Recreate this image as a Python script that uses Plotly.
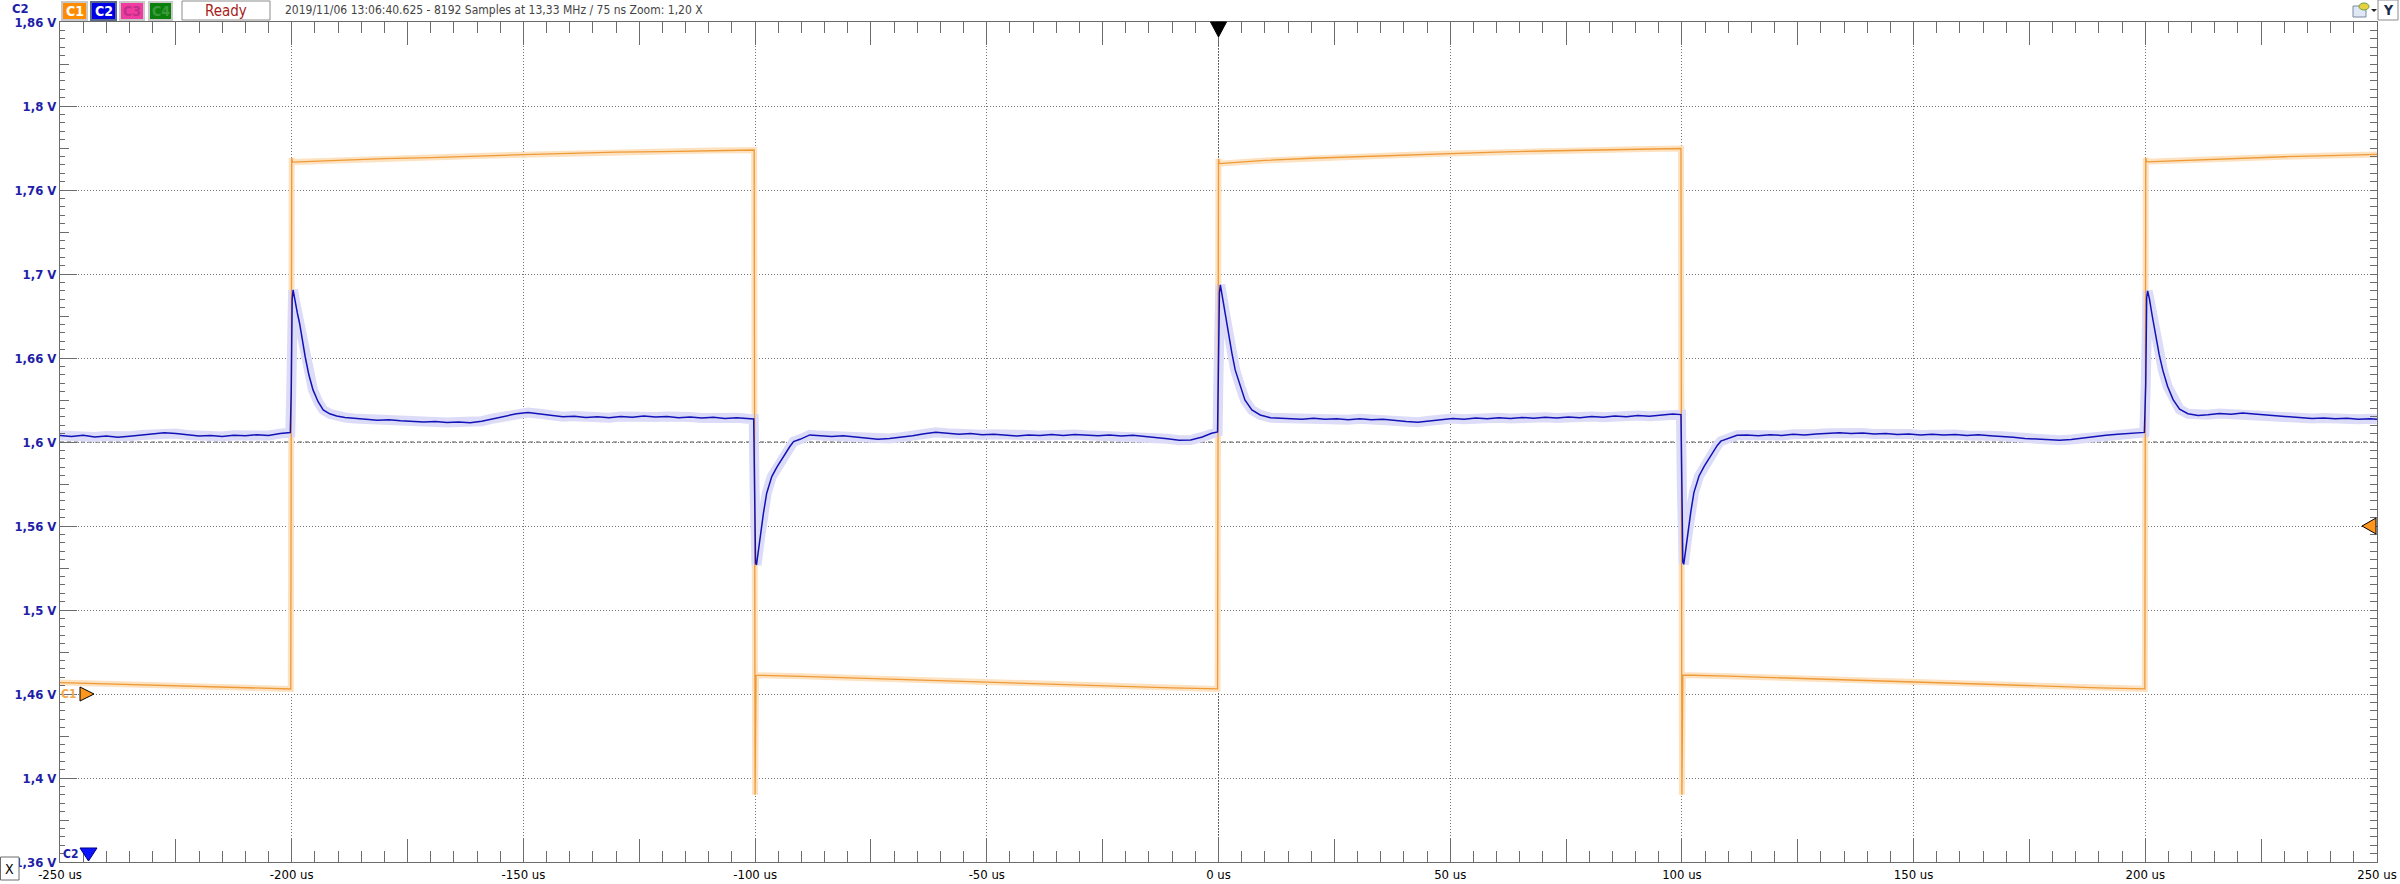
import plotly.graph_objects as go

# Scope capture: C1 (orange) square wave, C2 (blue) with edge transients.
# Time in us, level in V on the displayed (C2) scale.

C1_T = [-250, -240, -230, -220, -210, -200.2,
        -200.0, -199.8, -190, -180, -170, -160, -150, -140, -130, -120, -110, -100.2,
        -100.0, -99.8, -90, -80, -70, -60, -50, -40, -30, -20, -10, -0.2,
        0.0, 0.2, 10, 20, 30, 40, 50, 60, 70, 80, 90, 99.8,
        100.0, 100.2, 110, 120, 130, 140, 150, 160, 170, 180, 190, 199.9,
        200.1, 200.3, 210, 220, 230, 240, 250]
C1_V = [1.4668, 1.4661, 1.4653, 1.4646, 1.4637, 1.4630,
        1.7790, 1.7766, 1.7776, 1.7787, 1.7793, 1.7803, 1.7810, 1.7818, 1.7826, 1.7829, 1.7835, 1.7838,
        1.4000, 1.4712, 1.4705, 1.4696, 1.4688, 1.4677, 1.4668, 1.4659, 1.4651, 1.4642, 1.4636, 1.4630,
        1.7785, 1.7757, 1.7776, 1.7789, 1.7799, 1.7809, 1.7818, 1.7826, 1.7832, 1.7838, 1.7843, 1.7847,
        1.4000, 1.4713, 1.4706, 1.4697, 1.4688, 1.4678, 1.4669, 1.4660, 1.4651, 1.4643, 1.4637, 1.4631,
        1.7790, 1.7768, 1.7778, 1.7790, 1.7798, 1.7805, 1.7812]

C2_T = [-250, -247.5, -245, -242.5, -240, -237.5, -235, -232.5, -230, -227.5, -225, -222.5,
        -220, -217.5, -215, -212.5, -210, -207.5, -205, -202.5, -200.3,
        -200.1, -199.9, -199.7, -199.3, -198.8, -198.3, -197.7, -197.1, -196.3, -195.4,
        -194.3, -193.2, -191.8, -190.3, -188.5, -186.5,
        -184, -181.5, -179, -176.5, -174, -171.5, -169, -166.5, -164, -161.5, -159, -156.5,
        -154, -151.5, -149, -146.5, -144, -141.5, -139, -136.5, -134, -131.5, -129, -126.5,
        -124, -121.5, -119, -116.5, -114, -111.5, -109, -106.5, -104, -101.5, -100.3,
        -100.1, -99.9, -99.7, -98.9, -98.2, -97.5, -96.4, -95.3, -93.9, -92.5, -91.7, -90.3, -88.2,
        -86, -83.5, -81, -78.5, -76, -73.5, -71, -68.5, -66, -63.5, -61, -58.5, -56, -53.5,
        -51, -48.5, -46, -43.5, -41, -38.5, -36, -33.5, -31, -28.5, -26, -23.5, -21, -18.5,
        -16, -13.5, -11, -8.5, -6, -3.5, -1.5, -0.2,
        0.0, 0.2, 0.4, 0.7, 1.4, 2.1, 2.9, 3.6, 4.7, 5.7, 7.2, 9.0, 11.2, 13.3,
        15.5, 18, 20.5, 23, 25.5, 28, 30.5, 33, 35.5, 38, 40.5, 43, 45.5, 48, 50.5, 53,
        55.5, 58, 60.5, 63, 65.5, 68, 70.5, 73, 75.5, 78, 80.5, 83, 85.5, 88, 90.5, 93,
        95.5, 98, 99.8,
        100.0, 100.2, 100.4, 101.2, 101.9, 102.6, 103.7, 104.8, 106.2, 107.6, 108.4, 109.8, 111.9,
        114, 116.5, 119, 121.5, 124, 126.5, 129, 131.5, 134, 136.5, 139, 141.5, 144, 146.5,
        149, 151.5, 154, 156.5, 159, 161.5, 164, 166.5, 169, 171.5, 174, 176.5, 179, 181.5,
        184, 186.5, 189, 191.5, 194, 196.5, 199, 199.8,
        200.1, 200.3, 200.5, 200.9, 201.5, 202.2, 203.0, 203.8, 204.8, 206.0, 207.4, 209.2,
        211.4, 213.5,
        216, 218.5, 221, 223.5, 226, 228.5, 231, 233.5, 236, 238.5, 241, 243.5, 246, 248.5, 250]
C2_V = [1.6138, 1.6132, 1.6140, 1.6130, 1.6136, 1.6128, 1.6134, 1.6141, 1.6148, 1.6155, 1.6150, 1.6142,
        1.6136, 1.6139, 1.6133, 1.6140, 1.6137, 1.6143, 1.6139, 1.6150, 1.6156,
        1.6400, 1.6950, 1.7005, 1.6940, 1.6870, 1.6807, 1.6705, 1.6609, 1.6500, 1.6410,
        1.6340, 1.6291, 1.6268, 1.6255, 1.6246, 1.6240,
        1.6236, 1.6230, 1.6233, 1.6226, 1.6224, 1.6219, 1.6222, 1.6216, 1.6219, 1.6215, 1.6224, 1.6240,
        1.6256, 1.6268, 1.6275, 1.6268, 1.6258, 1.6250, 1.6254, 1.6246, 1.6251, 1.6245, 1.6252, 1.6247,
        1.6255, 1.6249, 1.6252, 1.6244, 1.6249, 1.6243, 1.6247, 1.6240, 1.6244, 1.6238, 1.6237,
        1.5800, 1.5380, 1.5368, 1.5536, 1.5676, 1.5795, 1.5894, 1.5950, 1.6013, 1.6073, 1.6102, 1.6116, 1.6142,
        1.6138, 1.6133, 1.6137, 1.6129, 1.6122, 1.6117, 1.6121, 1.6128, 1.6137, 1.6149, 1.6158, 1.6152, 1.6146, 1.6150,
        1.6143, 1.6146, 1.6140, 1.6136, 1.6142, 1.6138, 1.6144, 1.6139, 1.6145, 1.6140, 1.6137, 1.6142, 1.6136, 1.6140,
        1.6134, 1.6127, 1.6119, 1.6110, 1.6112, 1.6130, 1.6152, 1.6160,
        1.6500, 1.6990, 1.7035, 1.6985, 1.6866, 1.6747, 1.6628, 1.6529, 1.6430, 1.6350, 1.6291, 1.6261, 1.6245, 1.6242,
        1.6240, 1.6236, 1.6242, 1.6235, 1.6239, 1.6233, 1.6238, 1.6232, 1.6236, 1.6228, 1.6222, 1.6218, 1.6226, 1.6235, 1.6240, 1.6236,
        1.6243, 1.6238, 1.6244, 1.6240, 1.6246, 1.6241, 1.6247, 1.6243, 1.6249, 1.6245, 1.6252, 1.6248, 1.6255, 1.6250, 1.6258, 1.6254,
        1.6262, 1.6266, 1.6263,
        1.5810, 1.5385, 1.5372, 1.5545, 1.5680, 1.5800, 1.5898, 1.5955, 1.6018, 1.6078, 1.6105, 1.6120, 1.6140,
        1.6142, 1.6137, 1.6143, 1.6139, 1.6146, 1.6141, 1.6148, 1.6152, 1.6155, 1.6150, 1.6153, 1.6147, 1.6150, 1.6144,
        1.6148, 1.6142, 1.6146, 1.6141, 1.6144, 1.6139, 1.6143, 1.6137, 1.6134, 1.6128, 1.6121, 1.6116, 1.6112, 1.6110,
        1.6115, 1.6124, 1.6133, 1.6140, 1.6146, 1.6151, 1.6155, 1.6157,
        1.6450, 1.6960, 1.7000, 1.6950, 1.6850, 1.6735, 1.6620, 1.6525, 1.6432, 1.6352, 1.6295, 1.6268,
        1.6258, 1.6262,
        1.6270, 1.6265, 1.6272, 1.6266, 1.6261, 1.6255, 1.6250, 1.6246, 1.6240, 1.6243, 1.6238, 1.6241, 1.6236, 1.6239, 1.6235]
assert len(C1_T) == len(C1_V) and len(C2_T) == len(C2_V)

X_TICKS = [-250, -200, -150, -100, -50, 0, 50, 100, 150, 200, 250]
X_LABELS = ['-250 us', '-200 us', '-150 us', '-100 us', '-50 us', '0 us',
            '50 us', '100 us', '150 us', '200 us', '250 us']
Y_TICKS = [1.86, 1.81, 1.76, 1.71, 1.66, 1.61, 1.56, 1.51, 1.46, 1.41, 1.36]
Y_LABELS = ['1,86 V', '1,8 V', '1,76 V', '1,7 V', '1,66 V', '1,6 V',
            '1,56 V', '1,5 V', '1,46 V', '1,4 V', '1,36 V']

C1_LEVEL = 1.46
C1_TRIG_LEVEL = 1.56
C2_CENTER = 1.61
TRIG_TIME = 0
HEADER = '2019/11/06 13:06:40.625 - 8192 Samples at 13,33 MHz / 75 ns Zoom: 1,20 X'

W, H = 2400, 884
L, R, T, B = 60, 23, 22, 22
PW, PH = W - L - R, H - T - B

NARROW = 'Liberation Sans Narrow, DejaVu Sans Condensed, Arial Narrow, sans-serif'
AX = '#6c6c6c'
GRID = '#747474'
ORANGE = '#ee9a36'
BLUE = '#1212b8'


def fx(px):
    return (px - L) / PW


def fy(py):
    return (H - B - py) / PH


fig = go.Figure()

# envelopes first, then the traces on top
fig.add_trace(go.Scatter(x=C1_T, y=C1_V, mode='lines', line=dict(color='#fde2c2', width=6),
                         hoverinfo='skip', showlegend=False))
fig.add_trace(go.Scatter(x=C2_T, y=C2_V, mode='lines', line=dict(color='#dcdcf8', width=10),
                         hoverinfo='skip', showlegend=False))
fig.add_trace(go.Scatter(x=C1_T, y=C1_V, mode='lines', name='C1',
                         line=dict(color=ORANGE, width=1.3), showlegend=False))
fig.add_trace(go.Scatter(x=C2_T, y=C2_V, mode='lines', name='C2',
                         line=dict(color=BLUE, width=1.5), showlegend=False))

# empty traces so the tick-only overlay axes get drawn
for xa, ya in [('x2', 'y'), ('x3', 'y'), ('x', 'y2'), ('x', 'y3')]:
    fig.add_trace(go.Scatter(x=[None], y=[None], xaxis=xa, yaxis=ya,
                             hoverinfo='skip', showlegend=False))

xr = [X_TICKS[0], X_TICKS[-1]]
yr = [Y_TICKS[-1], Y_TICKS[0]]

tick_x = dict(overlaying='x', range=xr, tickmode='linear', tick0=xr[0], dtick=25,
              ticks='inside', ticklen=23, tickcolor=AX, showticklabels=False,
              showgrid=False, zeroline=False, showline=False, anchor='y', automargin=False,
              minor=dict(tick0=xr[0], dtick=5, ticks='inside', ticklen=11, tickcolor=AX))

fig.update_layout(
    width=W, height=H,
    margin=dict(l=L, r=R, t=T, b=B, autoexpand=False),
    paper_bgcolor='white', plot_bgcolor='white',
    showlegend=False,
    xaxis=dict(range=xr, tickvals=X_TICKS, ticktext=X_LABELS, ticks='',
               showgrid=True, gridcolor=GRID, griddash='1px,2px', gridwidth=1,
               showline=True, linecolor=AX, linewidth=1, mirror=True, zeroline=False,
               automargin=False,
               tickfont=dict(family=NARROW, size=13, color='#000000'), anchor='y'),
    xaxis2=dict(tick_x, side='bottom'),
    xaxis3=dict(tick_x, side='top'),
    yaxis=dict(range=yr, tickvals=Y_TICKS, ticktext=Y_LABELS, ticks='inside', ticklen=17,
               tickcolor=AX, showgrid=True, gridcolor=GRID, griddash='1px,2px', gridwidth=1,
               showline=True, linecolor=AX, linewidth=1, mirror=True, zeroline=False,
               automargin=False,
               tickfont=dict(family=NARROW, size=13, color='#1e1ea8', weight='bold'), anchor='x'),
    yaxis2=dict(overlaying='y', range=yr, side='left', tickmode='linear', tick0=yr[0] + 0.025,
                dtick=0.05, ticks='inside', ticklen=9, tickcolor=AX, showticklabels=False,
                showgrid=False, zeroline=False, showline=False, anchor='x', automargin=False,
                minor=dict(tick0=yr[0], dtick=0.005, ticks='inside', ticklen=5, tickcolor=AX)),
    yaxis3=dict(overlaying='y', range=yr, side='right', tickmode='linear', tick0=yr[0],
                dtick=0.005, ticks='inside', ticklen=7, tickcolor=AX, showticklabels=False,
                showgrid=False, zeroline=False, showline=False, anchor='x', automargin=False),
)

shapes = []
annos = []

# centre lines
shapes.append(dict(type='line', xref='paper', x0=0, x1=1, yref='y', y0=C2_CENTER, y1=C2_CENTER,
                   line=dict(color='#555555', width=1, dash='4px,3px'), layer='between'))
shapes.append(dict(type='line', xref='x', x0=TRIG_TIME, x1=TRIG_TIME, yref='paper', y0=0, y1=1,
                   line=dict(color='#555555', width=1, dash='1px,2px'), layer='between'))

# top bar: channel buttons
buttons = [('C1', 62, 87, '#ff8c00', '#ffffff', '#c8c8c8'),
           ('C2', 91, 116, '#0000e6', '#ffffff', '#5a6a8a'),
           ('C3', 120, 144, '#f03ca0', '#c0308a', '#c8c8c8'),
           ('C4', 149, 172, '#0c800c', '#3c9a3c', '#c8c8c8')]
for label, x0, x1, fill, txt, edge in buttons:
    shapes.append(dict(type='rect', xref='paper', yref='paper', x0=fx(x0), x1=fx(x1),
                       y0=fy(20), y1=fy(2), fillcolor=fill, line=dict(color=edge, width=2),
                       layer='above'))
    annos.append(dict(xref='paper', yref='paper', x=fx((x0 + x1) / 2), y=fy(11), text=label,
                      showarrow=False, font=dict(family=NARROW, size=14, color=txt, weight='bold'),
                      xanchor='center', yanchor='middle'))

# Ready box and header text
shapes.append(dict(type='rect', xref='paper', yref='paper', x0=fx(182), x1=fx(270),
                   y0=fy(20), y1=fy(1), fillcolor='white', line=dict(color='#8c8c8c', width=1)))
annos.append(dict(xref='paper', yref='paper', x=fx(226), y=fy(11), text='Ready', showarrow=False,
                  font=dict(family=NARROW, size=15, color='#a81c1c'), xanchor='center',
                  yanchor='middle'))
annos.append(dict(xref='paper', yref='paper', x=fx(283), y=fy(10), text=HEADER, showarrow=False,
                  font=dict(family=NARROW, size=12, color='#444444'), xanchor='left',
                  yanchor='middle'))
annos.append(dict(xref='paper', yref='paper', x=fx(20), y=fy(8), text='C2', showarrow=False,
                  font=dict(family=NARROW, size=13, color='#1e1ea8', weight='bold'),
                  xanchor='center', yanchor='middle'))

# Y / X boxes and the little toolbar icon
shapes.append(dict(type='rect', xref='paper', yref='paper', x0=fx(2378), x1=fx(2398),
                   y0=fy(20), y1=fy(0), fillcolor='white', line=dict(color='#8c8c8c', width=1)))
annos.append(dict(xref='paper', yref='paper', x=fx(2388), y=fy(10), text='Y', showarrow=False,
                  font=dict(family=NARROW, size=14, color='#1a2a4a', weight='bold'),
                  xanchor='center', yanchor='middle'))
shapes.append(dict(type='rect', xref='paper', yref='paper', x0=fx(2353), x1=fx(2366),
                   y0=fy(17), y1=fy(6), fillcolor='#dfe8f4', line=dict(color='#7a8aa0', width=1)))
shapes.append(dict(type='circle', xref='paper', yref='paper', x0=fx(2359), x1=fx(2369),
                   y0=fy(10), y1=fy(3), fillcolor='#e8d040', line=dict(color='#6aa040', width=1)))
shapes.append(dict(type='path', xref='paper', yref='paper', xsizemode='pixel', ysizemode='pixel',
                   xanchor=fx(2374), yanchor=fy(10), path='M -3,1 L 3,1 L 0,-2 Z',
                   fillcolor='#222222', line=dict(width=0)))
shapes.append(dict(type='rect', xref='paper', yref='paper', x0=fx(0.5), x1=fx(19),
                   y0=fy(880), y1=fy(857), fillcolor='white', line=dict(color='#6c6c6c', width=1)))
annos.append(dict(xref='paper', yref='paper', x=fx(10), y=fy(868.5), text='X', showarrow=False,
                  font=dict(family=NARROW, size=14, color='#000000'), xanchor='center',
                  yanchor='middle'))

# channel / trigger markers
tri = dict(type='path', xsizemode='pixel', ysizemode='pixel', layer='above',
           line=dict(color='#000000', width=1))
shapes.append(dict(tri, xref='paper', xanchor=0, yref='y', yanchor=C1_LEVEL,
                   path='M 20,7 L 34,0 L 20,-7 Z', fillcolor='#ff961e'))
annos.append(dict(xref='paper', yref='y', x=fx(68), y=C1_LEVEL, text='C1', showarrow=False,
                  font=dict(family=NARROW, size=12, color='#f4a850', weight='bold'),
                  xanchor='center', yanchor='middle'))
shapes.append(dict(tri, xref='paper', xanchor=1, yref='y', yanchor=C1_TRIG_LEVEL,
                   path='M -1,8 L -15,0 L -1,-8 Z', fillcolor='#ff961e'))
shapes.append(dict(tri, xref='x', xanchor=TRIG_TIME, yref='paper', yanchor=1,
                   path='M -8,0 L 8,0 L 0,-15 Z', fillcolor='#000000'))
shapes.append(dict(tri, xref='paper', xanchor=0, yref='paper', yanchor=0,
                   path='M 20,14 L 37,14 L 28.5,1 Z', fillcolor='#0a14ff',
                   line=dict(color='#000080', width=1)))
annos.append(dict(xref='paper', yref='paper', x=fx(70), y=fy(854), text='C2', showarrow=False,
                  font=dict(family=NARROW, size=12, color='#1e1ea8', weight='bold'),
                  xanchor='center', yanchor='middle'))

fig.update_layout(shapes=shapes, annotations=annos)

# the page's default body margin would push the fixed-size figure off the window
fig.write_html('out.html', config={'displayModeBar': False},
               post_script="document.body.style.margin='0';")
